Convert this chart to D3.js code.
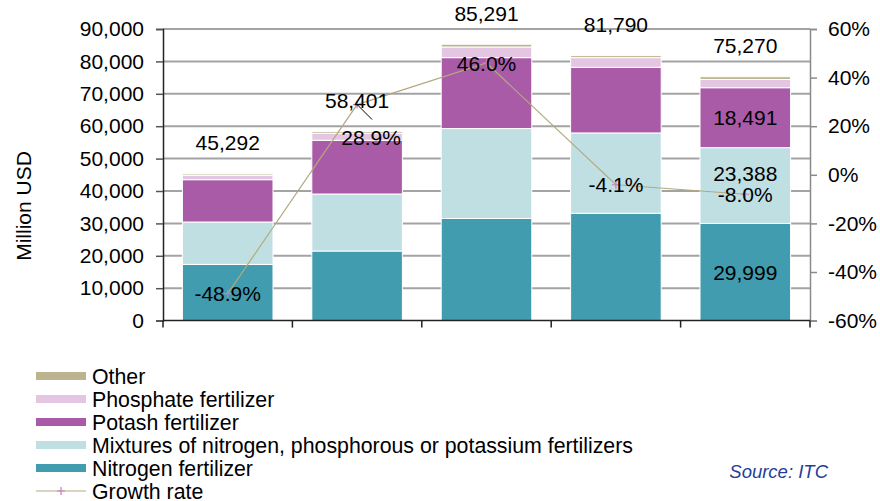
<!DOCTYPE html>
<html>
<head>
<meta charset="utf-8">
<script src="https://cdn.jsdelivr.net/npm/d3@7"></script>
<style>
  body { margin: 0; background: #fff; }
  svg text { font-family: "Liberation Sans", Arial, sans-serif; fill: #000; }
</style>
</head>
<body>
<svg id="chart"></svg>
<script>
// Data
var categories = ["2009", "2010", "2011", "2012", "2013"];
var nitrogen = [17350, 21480, 31530, 33120, 29999];
var mixtures = [13080, 17590, 27740, 24800, 23388];
var potash = [13060, 16580, 21890, 20250, 18491];
var phosphate = [1350, 2200, 3290, 2990, 2550];
var other = [452, 551, 841, 630, 842];
var totals = [45292, 58401, 85291, 81790, 75270];
var growth = [-0.489, 0.289, 0.460, -0.041, -0.080];
var leftTicks = [0, 10000, 20000, 30000, 40000, 50000, 60000, 70000, 80000, 90000];
var rightTicks = [-0.6, -0.4, -0.2, 0, 0.2, 0.4, 0.6];

var seriesNames = ["Nitrogen fertilizer", "Mixtures of nitrogen, phosphorous or potassium fertilizers",
  "Potash fertilizer", "Phosphate fertilizer", "Other"];
var seriesValues = [nitrogen, mixtures, potash, phosphate, other];
var seriesColors = ["#409cae", "#bfdfe3", "#a95ba8", "#e4c6e3", "#bbb48f"];

var width = 880, height = 501;
var plotLeft = 163, plotRight = 810, plotTop = 29, plotBottom = 320.6;

var svg = d3.select("#chart").attr("width", width).attr("height", height);

// build table for stacking
var table = categories.map(function(c, i) {
  var row = { cat: c };
  seriesNames.forEach(function(n, j) { row[n] = seriesValues[j][i]; });
  return row;
});

var x = d3.scaleBand().domain(categories).range([plotLeft, plotRight]).paddingInner(0.3).paddingOuter(0.15);
var y = d3.scaleLinear().domain([0, 90000]).range([plotBottom, plotTop]);
var y2 = d3.scaleLinear().domain([-0.6, 0.6]).range([plotBottom, plotTop]);

// gridlines
svg.append("g")
  .selectAll("line")
  .data(leftTicks.slice(1))
  .enter().append("line")
  .attr("x1", plotLeft).attr("x2", plotRight)
  .attr("y1", function(d) { return y(d); })
  .attr("y2", function(d) { return y(d); })
  .attr("stroke", "#a3a3a3").attr("stroke-width", 2);

// stacked bars
var stack = d3.stack().keys(seriesNames)(table);
svg.append("g")
  .selectAll("g")
  .data(stack)
  .enter().append("g")
  .attr("fill", function(d, i) { return seriesColors[i]; })
  .selectAll("rect")
  .data(function(d) { return d; })
  .enter().append("rect")
  .attr("x", function(d) { return x(d.data.cat); })
  .attr("width", x.bandwidth())
  .attr("y", function(d) { return y(d[1]); })
  .attr("height", function(d) { return y(d[0]) - y(d[1]); })
  .attr("stroke", "#fff").attr("stroke-width", 1);

// left axis
var yAxis = d3.axisLeft(y).tickValues(leftTicks).tickSize(7).tickPadding(12)
  .tickFormat(d3.format(","));
var gy = svg.append("g").attr("transform", "translate(" + plotLeft + ",0)").call(yAxis);
gy.select(".domain").attr("stroke", "#222").attr("stroke-width", 1.5);
gy.selectAll(".tick line").attr("stroke", "#555").attr("stroke-width", 1.5);
gy.selectAll("text").attr("font-size", 21).attr("fill", "#000").attr("font-family", "Liberation Sans, Arial");

// right axis
var y2Axis = d3.axisRight(y2).tickValues(rightTicks).tickSize(7).tickPadding(11)
  .tickFormat(function(d) { return d3.format(".0%")(d).replace("−", "-"); });
var gy2 = svg.append("g").attr("transform", "translate(" + plotRight + ",0)").call(y2Axis);
gy2.select(".domain").attr("stroke", "#8a8a8a").attr("stroke-width", 1.5);
gy2.selectAll(".tick line").attr("stroke", "#8a8a8a").attr("stroke-width", 1.5);
gy2.selectAll("text").attr("font-size", 21).attr("fill", "#000").attr("font-family", "Liberation Sans, Arial");

// bottom axis with ticks at category boundaries
var bounds = categories.map(function(c) { return x(c) - x.step() * x.paddingInner() / 2; });
bounds[0] = plotLeft;
bounds.push(plotRight);
svg.append("line").attr("x1", plotLeft).attr("x2", plotRight).attr("y1", plotBottom).attr("y2", plotBottom)
  .attr("stroke", "#222").attr("stroke-width", 1.5);
svg.append("g").selectAll("line").data(bounds).enter().append("line")
  .attr("x1", function(d) { return d; }).attr("x2", function(d) { return d; })
  .attr("y1", plotBottom).attr("y2", plotBottom + 7)
  .attr("stroke", "#222").attr("stroke-width", 1.5);

// growth line
var cx = function(i) { return x(categories[i]) + x.bandwidth() / 2; };
var line = d3.line().x(function(d, i) { return cx(i); }).y(function(d) { return y2(d); });
svg.append("path").datum(growth).attr("d", line)
  .attr("fill", "none").attr("stroke", "#b3a97f").attr("stroke-width", 1.2);
svg.append("g").selectAll("path").data(growth).enter().append("path")
  .attr("d", function(d, i) {
    var px = cx(i), py = y2(d);
    return "M" + (px - 4) + "," + py + "H" + (px + 4) + "M" + px + "," + (py - 4) + "V" + (py + 4);
  })
  .attr("stroke", "#c77cc2").attr("stroke-width", 1.2);

// total labels above bars
svg.append("g").selectAll("text").data(totals).enter().append("text")
  .attr("x", function(d, i) { return cx(i); })
  .attr("y", function(d) { return y(d) - 31; })
  .attr("dy", "0.36em")
  .attr("text-anchor", "middle").attr("font-size", 21)
  .text(function(d) { return d3.format(",")(d); });

// growth labels (one nudged with a leader line, as in the source)
var growthNudge = [[0, 0], [14, 33], [0, 0], [0, 0], [0, 0]];
svg.append("g").selectAll("text").data(growth).enter().append("text")
  .attr("x", function(d, i) { return cx(i) + growthNudge[i][0]; })
  .attr("y", function(d, i) { return y2(d) + growthNudge[i][1]; })
  .attr("dy", "0.36em")
  .attr("text-anchor", "middle").attr("font-size", 21)
  .text(function(d) { return d3.format(".1%")(d).replace("−", "-"); });
svg.append("line")
  .attr("x1", cx(1)).attr("y1", y2(growth[1]))
  .attr("x2", cx(1) + 15).attr("y2", y2(growth[1]) + 15)
  .attr("stroke", "#000").attr("stroke-width", 1);

// segment labels on the last bar
var last = categories.length - 1;
var segLabels = [
  { s: 0, dy: 0 },
  { s: 1, dy: -12 },
  { s: 2, dy: 0 }
];
svg.append("g").selectAll("text").data(segLabels).enter().append("text")
  .attr("x", cx(last))
  .attr("y", function(d) {
    var seg = stack[d.s][last];
    return (y(seg[0]) + y(seg[1])) / 2 + d.dy;
  })
  .attr("dy", "0.36em")
  .attr("text-anchor", "middle").attr("font-size", 21)
  .text(function(d) { return d3.format(",")(seriesValues[d.s][last]); });

// y axis title
svg.append("text")
  .attr("transform", "translate(31,206) rotate(-90)")
  .attr("text-anchor", "middle").attr("font-size", 21)
  .text("Million USD");

// legend (top to bottom: Other ... Nitrogen, then Growth rate)
var legendOrder = [4, 3, 2, 1, 0];
var lg = svg.append("g");
legendOrder.forEach(function(s, k) {
  var ly = 376 + k * 23;
  lg.append("rect").attr("x", 36).attr("y", ly - 4).attr("width", 50).attr("height", 8)
    .attr("fill", seriesColors[s]);
  lg.append("text").attr("x", 92).attr("y", ly).attr("dy", "0.36em")
    .attr("font-size", 21.3).text(seriesNames[s]);
});
var gyL = 376 + 5 * 23;
lg.append("line").attr("x1", 36).attr("x2", 86).attr("y1", gyL).attr("y2", gyL)
  .attr("stroke", "#b3a97f").attr("stroke-width", 1.2);
lg.append("path")
  .attr("d", "M57," + gyL + "H65M61," + (gyL - 4) + "V" + (gyL + 4))
  .attr("stroke", "#c77cc2").attr("stroke-width", 1.2);
lg.append("text").attr("x", 92).attr("y", gyL).attr("dy", "0.36em")
  .attr("font-size", 21.3).text("Growth rate");

// source note
svg.append("text")
  .attr("x", 828).attr("y", 471).attr("dy", "0.36em")
  .attr("text-anchor", "end").attr("font-size", 18.5)
  .attr("font-style", "italic").style("fill", "#1f409a")
  .text("Source: ITC");
</script>
</body>
</html>
